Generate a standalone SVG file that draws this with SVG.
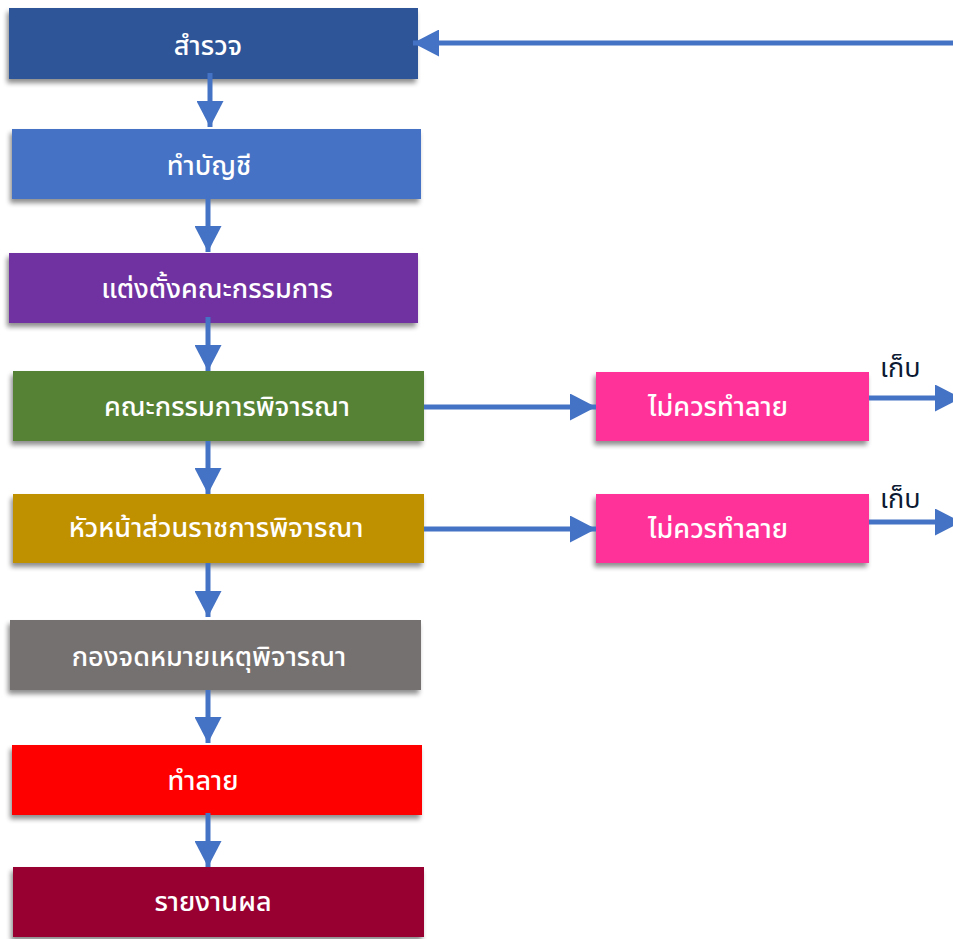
<svg xmlns="http://www.w3.org/2000/svg" width="953" height="939" viewBox="0 0 953 939">
  <defs>
    <filter id="shadow" x="-10%" y="-20%" width="120%" height="150%">
      <feGaussianBlur in="SourceAlpha" stdDeviation="2.5"/>
      <feOffset dx="-2" dy="4" result="b"/>
      <feComponentTransfer><feFuncA type="linear" slope="0.45"/></feComponentTransfer>
      <feMerge><feMergeNode/><feMergeNode in="SourceGraphic"/></feMerge>
    </filter>
    <marker id="head" viewBox="0 0 26 27" refX="26" refY="13.5" markerWidth="26" markerHeight="27" markerUnits="userSpaceOnUse" orient="auto">
      <path d="M0,0 L26,13.5 L0,27 Z" fill="#4472C4"/>
    </marker>
  </defs>
  <style>
    .box { filter: url(#shadow); }
    .lbl { font-family: "Noto Sans Thai", "Leelawadee UI", Tahoma, "Noto Sans", sans-serif; font-size: 27px; font-weight: 500; fill: #FFFFFF; text-anchor: middle; }
    .side { font-family: "Noto Sans Thai", "Leelawadee UI", Tahoma, "Noto Sans", sans-serif; font-size: 27px; fill: #0D1A33; }
    .conn { stroke: #4472C4; stroke-width: 5; fill: none; marker-end: url(#head); }
  </style>

  <rect width="953" height="939" fill="#FFFFFF"/>

  <g id="n-survey">
    <rect class="box" x="9" y="8" width="409" height="71" fill="#2F5597"/>
    <text class="lbl" x="208" y="55">สำรวจ</text>
  </g>
  <g id="n-list">
    <rect class="box" x="12" y="129" width="409" height="70" fill="#4472C4"/>
    <text class="lbl" x="209" y="175">ทำบัญชี</text>
  </g>
  <g id="n-appoint">
    <rect class="box" x="9" y="253" width="409" height="70" fill="#7030A0"/>
    <text class="lbl" x="217" y="298">แต่งตั้งคณะกรรมการ</text>
  </g>
  <g id="n-committee">
    <rect class="box" x="13" y="371" width="411" height="70" fill="#548235"/>
    <text class="lbl" x="227" y="416">คณะกรรมการพิจารณา</text>
  </g>
  <g id="n-head">
    <rect class="box" x="13" y="494" width="411" height="69" fill="#BF9000"/>
    <text class="lbl" x="216" y="537">หัวหน้าส่วนราชการพิจารณา</text>
  </g>
  <g id="n-archive">
    <rect class="box" x="10" y="620" width="411" height="70" fill="#767171"/>
    <text class="lbl" x="209" y="666">กองจดหมายเหตุพิจารณา</text>
  </g>
  <g id="n-destroy">
    <rect class="box" x="12" y="745" width="410" height="70" fill="#FF0000"/>
    <text class="lbl" x="203" y="790">ทำลาย</text>
  </g>
  <g id="n-report">
    <rect class="box" x="13" y="867" width="411" height="70" fill="#990033"/>
    <text class="lbl" x="213" y="911">รายงานผล</text>
  </g>
  <g id="n-keep1">
    <rect class="box" x="596" y="372" width="273" height="69" fill="#FF3399"/>
    <text class="lbl" x="718" y="416">ไม่ควรทำลาย</text>
  </g>
  <g id="n-keep2">
    <rect class="box" x="596" y="494" width="273" height="69" fill="#FF3399"/>
    <text class="lbl" x="718" y="538">ไม่ควรทำลาย</text>
  </g>

  <g id="connectors">
    <line class="conn" x1="210" y1="73" x2="210" y2="127"/>
    <line class="conn" x1="208" y1="199" x2="208" y2="252"/>
    <line class="conn" x1="208" y1="317" x2="208" y2="371"/>
    <line class="conn" x1="208" y1="441" x2="208" y2="494"/>
    <line class="conn" x1="208" y1="563" x2="208" y2="617"/>
    <line class="conn" x1="208" y1="690" x2="208" y2="743"/>
    <line class="conn" x1="208" y1="813" x2="208" y2="867"/>
    <line class="conn" x1="424" y1="407" x2="596" y2="407"/>
    <line class="conn" x1="424" y1="529" x2="596" y2="529"/>
    <line class="conn" x1="869" y1="398" x2="961" y2="398"/>
    <line class="conn" x1="869" y1="522" x2="961" y2="522"/>
    <line class="conn" x1="960" y1="43" x2="413" y2="43"/>
    <text class="side" x="880" y="377">เก็บ</text>
    <text class="side" x="880" y="508">เก็บ</text>
  </g>
</svg>
